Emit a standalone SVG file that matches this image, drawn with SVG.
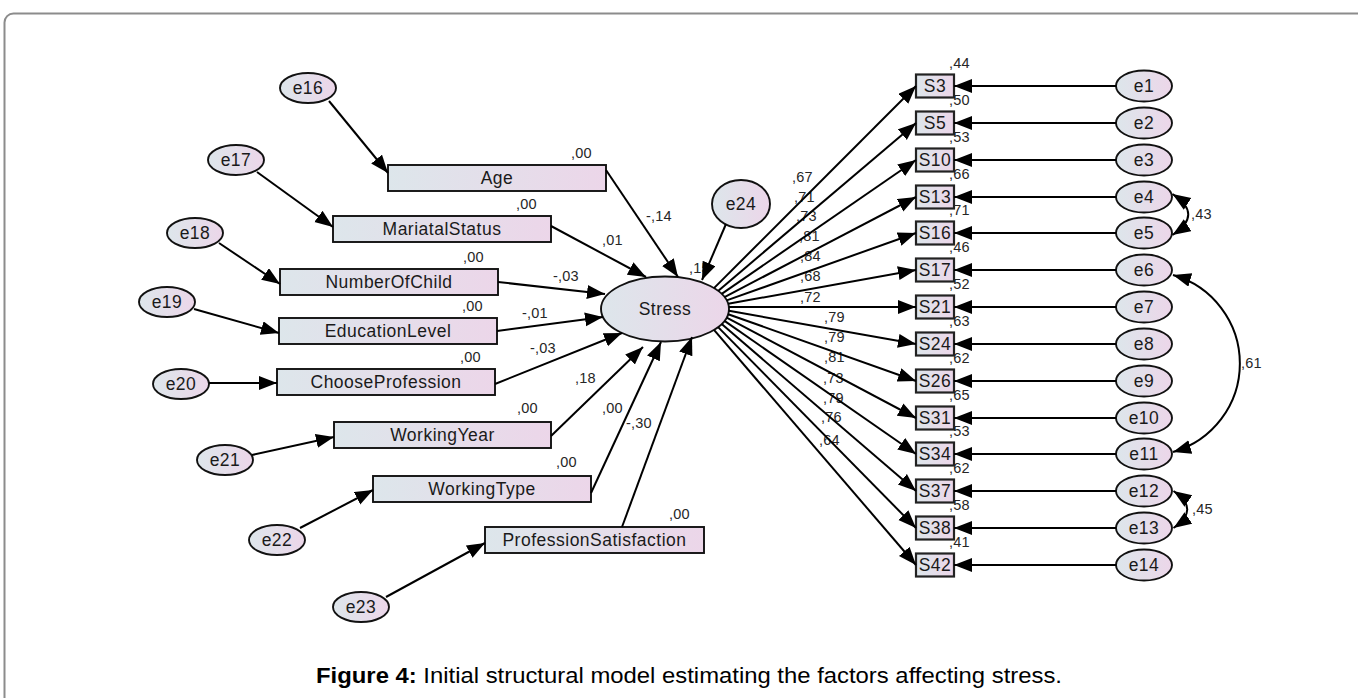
<svg xmlns="http://www.w3.org/2000/svg" width="1358" height="698" viewBox="0 0 1358 698">
  <defs>
    <linearGradient id="fillGrad" x1="0" y1="0" x2="1" y2="0">
      <stop offset="0" stop-color="#dde6eb"/>
      <stop offset="1" stop-color="#ecd6e9"/>
    </linearGradient>
    <marker id="arrow" markerUnits="userSpaceOnUse" markerWidth="20" markerHeight="16" refX="18" refY="7" orient="auto-start-reverse" viewBox="0 0 20 16">
      <path d="M0,0 L18,7 L0,14 z" fill="#000"/>
    </marker>
    <style>
      .box { fill: url(#fillGrad); stroke: #111; stroke-width: 1.9; }
      .sbox { fill: url(#fillGrad); stroke: #222; stroke-width: 2.2; }
      .ell { fill: url(#fillGrad); stroke: #111; stroke-width: 1.9; }
      .lbl { font-family: "Liberation Sans", Arial, sans-serif; font-size: 17.5px; fill: #1a1a1a; text-anchor: middle; letter-spacing: 0.5px; }
      .num { font-family: "Liberation Sans", Arial, sans-serif; font-size: 14.5px; fill: #262626; letter-spacing: 0.2px; }
      .conn line, .conn path { stroke: #000; stroke-width: 2; fill: none; marker-end: url(#arrow); }
      .conn .both { marker-start: url(#arrow); }
      .cap { font-family: "Liberation Sans", Arial, sans-serif; font-size: 22px; fill: #000; }
    </style>
  </defs>

  <rect width="1358" height="698" fill="#fff"/>
  <!-- outer frame -->
  <rect x="4.5" y="13.5" width="1400" height="800" rx="9" fill="none" stroke="#8c8c8c" stroke-width="2"/>

  <!-- coefficient labels -->
  <g id="labels" class="num">
    <text x="571" y="158">,00</text>
    <text x="516" y="209">,00</text>
    <text x="463" y="262">,00</text>
    <text x="462" y="311">,00</text>
    <text x="460" y="362">,00</text>
    <text x="517" y="413">,00</text>
    <text x="556" y="467">,00</text>
    <text x="669" y="519">,00</text>

    <text x="646" y="221">-,14</text>
    <text x="602" y="245">,01</text>
    <text x="553" y="281">-,03</text>
    <text x="522" y="318">-,01</text>
    <text x="530" y="353">-,03</text>
    <text x="575" y="383">,18</text>
    <text x="602" y="413">,00</text>
    <text x="626" y="428">-,30</text>
    <text x="689" y="273">,15</text>

    <text x="792" y="182">,67</text>
    <text x="794" y="202">,71</text>
    <text x="796" y="221">,73</text>
    <text x="799" y="241">,81</text>
    <text x="800" y="261">,84</text>
    <text x="800" y="281">,68</text>
    <text x="800" y="302">,72</text>
    <text x="824" y="322">,79</text>
    <text x="824" y="342">,79</text>
    <text x="824" y="362">,81</text>
    <text x="823" y="383">,73</text>
    <text x="823" y="403">,79</text>
    <text x="821" y="422">,76</text>
    <text x="819" y="445">,64</text>

    <text x="949" y="68">,44</text>
    <text x="949" y="105">,50</text>
    <text x="949" y="142">,53</text>
    <text x="949" y="179">,66</text>
    <text x="949" y="215">,71</text>
    <text x="949" y="252">,46</text>
    <text x="949" y="289">,52</text>
    <text x="949" y="326">,63</text>
    <text x="949" y="363">,62</text>
    <text x="949" y="400">,65</text>
    <text x="949" y="436">,53</text>
    <text x="949" y="473">,62</text>
    <text x="949" y="510">,58</text>
    <text x="949" y="547">,41</text>

    <text x="1191" y="219">,43</text>
    <text x="1241" y="368">,61</text>
    <text x="1192" y="514">,45</text>
  </g>

  <!-- left exogenous variables -->
  <g id="age"><rect class="box" x="388" y="165" width="218" height="26"/><text class="lbl" x="497" y="184">Age</text></g>
  <g id="mariatal-status"><rect class="box" x="333" y="216" width="218" height="26"/><text class="lbl" x="442" y="235">MariatalStatus</text></g>
  <g id="number-of-child"><rect class="box" x="280" y="269" width="218" height="26"/><text class="lbl" x="389" y="288">NumberOfChild</text></g>
  <g id="education-level"><rect class="box" x="279" y="318" width="218" height="26"/><text class="lbl" x="388" y="337">EducationLevel</text></g>
  <g id="choose-profession"><rect class="box" x="277" y="369" width="218" height="26"/><text class="lbl" x="386" y="388">ChooseProfession</text></g>
  <g id="working-year"><rect class="box" x="334" y="422" width="217" height="26"/><text class="lbl" x="442.5" y="441">WorkingYear</text></g>
  <g id="working-type"><rect class="box" x="373" y="476" width="218" height="26"/><text class="lbl" x="482" y="495">WorkingType</text></g>
  <g id="profession-satisfaction"><rect class="box" x="485" y="527" width="219" height="26"/><text class="lbl" x="594.5" y="546">ProfessionSatisfaction</text></g>

  <!-- left error terms -->
  <g id="e16"><ellipse class="ell" cx="308" cy="88" rx="28" ry="15"/><text class="lbl" x="308" y="94">e16</text></g>
  <g id="e17"><ellipse class="ell" cx="236" cy="160" rx="28" ry="15"/><text class="lbl" x="236" y="166">e17</text></g>
  <g id="e18"><ellipse class="ell" cx="195" cy="233" rx="28" ry="15"/><text class="lbl" x="195" y="239">e18</text></g>
  <g id="e19"><ellipse class="ell" cx="167" cy="302" rx="28" ry="15"/><text class="lbl" x="167" y="308">e19</text></g>
  <g id="e20"><ellipse class="ell" cx="181" cy="384" rx="28" ry="15"/><text class="lbl" x="181" y="390">e20</text></g>
  <g id="e21"><ellipse class="ell" cx="225" cy="460" rx="28" ry="15"/><text class="lbl" x="225" y="466">e21</text></g>
  <g id="e22"><ellipse class="ell" cx="277" cy="540" rx="28" ry="15"/><text class="lbl" x="277" y="546">e22</text></g>
  <g id="e23"><ellipse class="ell" cx="361" cy="607" rx="28" ry="15"/><text class="lbl" x="361" y="613">e23</text></g>

  <!-- latent variable and its disturbance -->
  <g id="stress"><ellipse class="ell" cx="665" cy="309" rx="64" ry="32.5"/><text class="lbl" x="665" y="315">Stress</text></g>
  <g id="e24"><ellipse class="ell" cx="741" cy="204" rx="29" ry="24"/><text class="lbl" x="741" y="210">e24</text></g>

  <!-- indicators -->
  <g id="s3"><rect class="sbox" x="916" y="74.5" width="38" height="23"/><text class="lbl" x="935" y="92">S3</text></g>
  <g id="s5"><rect class="sbox" x="916" y="111.5" width="38" height="23"/><text class="lbl" x="935" y="129">S5</text></g>
  <g id="s10"><rect class="sbox" x="916" y="148.5" width="38" height="23"/><text class="lbl" x="935" y="166">S10</text></g>
  <g id="s13"><rect class="sbox" x="916" y="185.5" width="38" height="23"/><text class="lbl" x="935" y="203">S13</text></g>
  <g id="s16"><rect class="sbox" x="916" y="221.5" width="38" height="23"/><text class="lbl" x="935" y="239">S16</text></g>
  <g id="s17"><rect class="sbox" x="916" y="258.5" width="38" height="23"/><text class="lbl" x="935" y="276">S17</text></g>
  <g id="s21"><rect class="sbox" x="916" y="295.5" width="38" height="23"/><text class="lbl" x="935" y="313">S21</text></g>
  <g id="s24"><rect class="sbox" x="916" y="332.5" width="38" height="23"/><text class="lbl" x="935" y="350">S24</text></g>
  <g id="s26"><rect class="sbox" x="916" y="369.5" width="38" height="23"/><text class="lbl" x="935" y="387">S26</text></g>
  <g id="s31"><rect class="sbox" x="916" y="406.5" width="38" height="23"/><text class="lbl" x="935" y="424">S31</text></g>
  <g id="s34"><rect class="sbox" x="916" y="442.5" width="38" height="23"/><text class="lbl" x="935" y="460">S34</text></g>
  <g id="s37"><rect class="sbox" x="916" y="479.5" width="38" height="23"/><text class="lbl" x="935" y="497">S37</text></g>
  <g id="s38"><rect class="sbox" x="916" y="516.5" width="38" height="23"/><text class="lbl" x="935" y="534">S38</text></g>
  <g id="s42"><rect class="sbox" x="916" y="553.5" width="38" height="23"/><text class="lbl" x="935" y="571">S42</text></g>

  <!-- right error terms -->
  <g id="e1"><ellipse class="ell" cx="1144" cy="86" rx="28" ry="15.5"/><text class="lbl" x="1144" y="92">e1</text></g>
  <g id="e2"><ellipse class="ell" cx="1144" cy="123" rx="28" ry="15.5"/><text class="lbl" x="1144" y="129">e2</text></g>
  <g id="e3"><ellipse class="ell" cx="1144" cy="160" rx="28" ry="15.5"/><text class="lbl" x="1144" y="166">e3</text></g>
  <g id="e4"><ellipse class="ell" cx="1144" cy="197" rx="28" ry="15.5"/><text class="lbl" x="1144" y="203">e4</text></g>
  <g id="e5"><ellipse class="ell" cx="1144" cy="233" rx="28" ry="15.5"/><text class="lbl" x="1144" y="239">e5</text></g>
  <g id="e6"><ellipse class="ell" cx="1144" cy="270" rx="28" ry="15.5"/><text class="lbl" x="1144" y="276">e6</text></g>
  <g id="e7"><ellipse class="ell" cx="1144" cy="307" rx="28" ry="15.5"/><text class="lbl" x="1144" y="313">e7</text></g>
  <g id="e8"><ellipse class="ell" cx="1144" cy="344" rx="28" ry="15.5"/><text class="lbl" x="1144" y="350">e8</text></g>
  <g id="e9"><ellipse class="ell" cx="1144" cy="381" rx="28" ry="15.5"/><text class="lbl" x="1144" y="387">e9</text></g>
  <g id="e10"><ellipse class="ell" cx="1144" cy="418" rx="28" ry="15.5"/><text class="lbl" x="1144" y="424">e10</text></g>
  <g id="e11"><ellipse class="ell" cx="1144" cy="454" rx="28" ry="15.5"/><text class="lbl" x="1144" y="460">e11</text></g>
  <g id="e12"><ellipse class="ell" cx="1144" cy="491" rx="28" ry="15.5"/><text class="lbl" x="1144" y="497">e12</text></g>
  <g id="e13"><ellipse class="ell" cx="1144" cy="528" rx="28" ry="15.5"/><text class="lbl" x="1144" y="534">e13</text></g>
  <g id="e14"><ellipse class="ell" cx="1144" cy="565" rx="28" ry="15.5"/><text class="lbl" x="1144" y="571">e14</text></g>

  <!-- paths -->
  <g id="connectors" class="conn">
    <!-- errors into exogenous variables -->
    <line x1="329" y1="101" x2="388" y2="173"/>
    <line x1="257" y1="172" x2="333" y2="227"/>
    <line x1="219" y1="243" x2="280" y2="284"/>
    <line x1="194" y1="309" x2="279" y2="333"/>
    <line x1="209" y1="383" x2="277" y2="383"/>
    <line x1="252" y1="455" x2="334" y2="437"/>
    <line x1="300" y1="528" x2="373" y2="490"/>
    <line x1="386" y1="597" x2="485" y2="543"/>

    <!-- structural paths into Stress -->
    <line x1="606" y1="170" x2="678" y2="277"/>
    <line x1="551" y1="226" x2="646" y2="277"/>
    <line x1="498" y1="282" x2="605" y2="294"/>
    <line x1="497" y1="331" x2="603" y2="317"/>
    <line x1="495" y1="384" x2="622" y2="333"/>
    <line x1="551" y1="436" x2="643" y2="347"/>
    <line x1="591" y1="493" x2="661" y2="342"/>
    <line x1="622" y1="527" x2="692" y2="337"/>
    <line x1="726" y1="224" x2="702" y2="280"/>

    <!-- loadings -->
    <line x1="714.0" y1="288.1" x2="916" y2="86"/>
    <line x1="718.1" y1="290.9" x2="916" y2="123"/>
    <line x1="721.7" y1="293.9" x2="916" y2="160"/>
    <line x1="724.5" y1="297.1" x2="916" y2="197"/>
    <line x1="726.7" y1="300.4" x2="916" y2="233"/>
    <line x1="728.2" y1="303.8" x2="916" y2="270"/>
    <line x1="728.9" y1="307.0" x2="916" y2="307"/>
    <line x1="728.9" y1="310.8" x2="916" y2="344"/>
    <line x1="728.2" y1="314.2" x2="916" y2="381"/>
    <line x1="726.7" y1="317.6" x2="916" y2="418"/>
    <line x1="724.5" y1="320.9" x2="916" y2="454"/>
    <line x1="721.7" y1="324.1" x2="916" y2="491"/>
    <line x1="718.1" y1="327.1" x2="916" y2="528"/>
    <line x1="714.0" y1="329.9" x2="916" y2="565"/>

    <!-- measurement errors -->
    <line x1="1116" y1="86" x2="954" y2="86"/>
    <line x1="1116" y1="123" x2="954" y2="123"/>
    <line x1="1116" y1="160" x2="954" y2="160"/>
    <line x1="1116" y1="197" x2="954" y2="197"/>
    <line x1="1116" y1="233" x2="954" y2="233"/>
    <line x1="1116" y1="270" x2="954" y2="270"/>
    <line x1="1116" y1="307" x2="954" y2="307"/>
    <line x1="1116" y1="344" x2="954" y2="344"/>
    <line x1="1116" y1="381" x2="954" y2="381"/>
    <line x1="1116" y1="418" x2="954" y2="418"/>
    <line x1="1116" y1="454" x2="954" y2="454"/>
    <line x1="1116" y1="491" x2="954" y2="491"/>
    <line x1="1116" y1="528" x2="954" y2="528"/>
    <line x1="1116" y1="565" x2="954" y2="565"/>

    <!-- error covariances -->
    <path class="both" d="M1172.5,194 Q1204,214.5 1172.5,235"/>
    <path class="both" d="M1173,275 A92,92 0 0 1 1173,452"/>
    <path class="both" d="M1173.5,491 Q1201,509.5 1173.5,528"/>
  </g>

  <!-- caption -->
  <text class="cap" x="316" y="683" textLength="746" lengthAdjust="spacingAndGlyphs"><tspan font-weight="bold">Figure 4:</tspan> Initial structural model estimating the factors affecting stress.</text>
</svg>
